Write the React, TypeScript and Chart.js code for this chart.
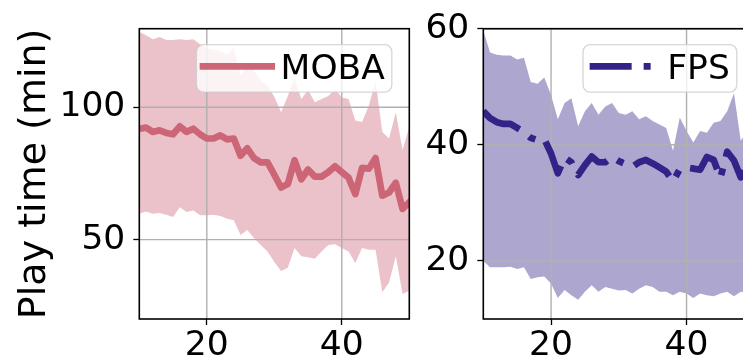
import { useEffect, useRef } from "react";
import { Chart, registerables } from "chart.js";

Chart.register(...registerables);

// Session index along the x axis
const sessions = [
  10, 11, 12, 13, 14, 15, 16, 17, 18, 19, 20, 21, 22, 23, 24, 25, 26, 27, 28, 29, 30,
  31, 32, 33, 34, 35, 36, 37, 38, 39, 40, 41, 42, 43, 44, 45, 46, 47, 48, 49, 50,
];

// MOBA play time: mean and spread band
const mobaMean = [
  91.9, 92.3, 90.7, 91.3, 90.3, 89.8, 92.8, 90.7, 91.9, 89.8, 88.2, 88.2, 89.4, 87.9, 88.2, 81.7,
  84.5, 80.8, 79.2, 79.2, 74.5, 69.7, 71.0, 80.0, 72.8, 76.5, 73.8, 73.8, 75.5, 77.7, 75.5, 73.4,
  67.2, 77.1, 76.8, 80.8, 66.6, 67.8, 71.5, 61.6, 64.1,
];
const mobaUpper = [
  128.5, 127.2, 125.7, 126.6, 125.4, 125.4, 125.7, 125.4, 125.7, 123.8, 122.3, 121.7, 121.3, 119.8,
  122.5, 111.8, 116.1, 113.6, 109.9, 108.1, 104.0, 98.1, 104.3, 111.1, 103.1, 106.5, 101.9, 103.1,
  104.3, 106.8, 103.7, 103.1, 95.0, 94.4, 100.6, 109.9, 90.7, 88.2, 98.1, 83.9, 92.6,
];
const mobaLower = [
  59.8, 60.6, 59.8, 60.1, 59.4, 58.5, 62.2, 60.4, 61.0, 59.2, 59.2, 59.4, 58.9, 57.9, 57.3, 51.7,
  53.6, 50.5, 48.0, 45.5, 41.5, 38.1, 39.4, 46.8, 43.7, 43.3, 42.8, 45.5, 48.0, 48.2, 46.8, 45.5,
  41.2, 46.8, 46.2, 46.2, 30.1, 33.8, 43.7, 29.4, 30.7,
];

// FPS play time: mean and spread band
const fpsMean = [
  45.8, 44.6, 43.9, 43.6, 43.6, 42.9, 42.2, 41.2, 40.8, 41.0, 38.5, 35.1, 37.8, 37.0, 34.8, 36.5,
  38.0, 37.0, 37.0, 37.9, 37.2, 36.7, 36.2, 37.0, 37.4, 36.8, 36.1, 35.4, 33.7, 35.8, 36.1, 35.9,
  35.7, 37.9, 37.4, 34.3, 38.8, 37.3, 34.4, 37.0, 36.0,
];
const fpsUpper = [
  59.7, 55.9, 55.5, 55.4, 55.4, 54.7, 55.0, 50.8, 50.5, 51.6, 48.6, 44.4, 47.2, 48.0, 43.2, 45.8,
  47.2, 45.2, 46.6, 47.2, 45.5, 45.2, 45.8, 44.4, 44.9, 44.1, 43.5, 42.9, 39.0, 44.7, 42.4, 40.4,
  42.4, 42.1, 43.8, 44.1, 45.8, 48.9, 40.7, 42.5, 44.0,
];
const fpsLower = [
  20.0, 18.9, 18.9, 18.9, 19.0, 18.6, 18.9, 16.9, 17.2, 17.3, 16.1, 13.6, 15.0, 14.1, 13.3, 14.7,
  15.8, 14.7, 15.5, 15.2, 14.9, 15.0, 14.4, 15.2, 15.8, 15.5, 14.7, 14.7, 14.1, 14.7, 14.4, 13.6,
  14.4, 14.1, 13.9, 14.4, 14.7, 13.9, 14.7, 14.5, 14.3,
];

// Tick values
const xTicks = [20, 40];
const mobaYTicks = [50, 100];
const fpsYTicks = [20, 40, 60];

const FONT = "'DejaVu Sans', 'Liberation Sans', sans-serif";
const MOBA_COLOR = "#CC6677";
const MOBA_BAND = "rgba(204, 102, 119, 0.4)";
const FPS_COLOR = "#332288";
const FPS_BAND = "rgba(51, 34, 136, 0.4)";
const DASH_DOT = [42, 12, 7, 12];

type PanelSpec = {
  label: string;
  mean: number[];
  upper: number[];
  lower: number[];
  color: string;
  band: string;
  dash: number[];
  yMin: number;
  yMax: number;
  yTicks: number[];
  yTitle: string | null;
  yAxisWidth: number;
  padRight: number;
};

// Grid lines drawn between the band and the mean line, plus the axes box and legend
const panelDecor = {
  id: "panelDecor",
  beforeDatasetDraw(chart: any, args: any, opts: any) {
    if (args.index !== 0) return;
    const { ctx, chartArea: ca } = chart;
    ctx.save();
    ctx.beginPath();
    ctx.rect(ca.left, ca.top, ca.right - ca.left, ca.bottom - ca.top);
    ctx.clip();
    ctx.strokeStyle = "#b0b0b0";
    ctx.lineWidth = 1.4;
    for (const v of opts.xTicks) {
      const x = chart.scales.x.getPixelForValue(v);
      ctx.beginPath();
      ctx.moveTo(x, ca.top);
      ctx.lineTo(x, ca.bottom);
      ctx.stroke();
    }
    for (const v of opts.yTicks) {
      const y = chart.scales.y.getPixelForValue(v);
      ctx.beginPath();
      ctx.moveTo(ca.left, y);
      ctx.lineTo(ca.right, y);
      ctx.stroke();
    }
    ctx.restore();
  },
  afterDatasetsDraw(chart: any, _args: any, opts: any) {
    const { ctx, chartArea: ca } = chart;
    ctx.save();
    // axes box
    ctx.strokeStyle = "#000";
    ctx.lineWidth = 1.6;
    ctx.strokeRect(ca.left, ca.top, ca.right - ca.left, ca.bottom - ca.top);

    // legend
    ctx.font = `34.5px ${FONT}`;
    const tw = ctx.measureText(opts.label).width;
    const boxRight = ca.right - 17.5;
    const boxW = 84.2 + tw + 7;
    const boxL = boxRight - boxW;
    const boxT = ca.top + 16;
    const boxH = 47.4;
    const r = 7;
    ctx.beginPath();
    ctx.moveTo(boxL + r, boxT);
    ctx.lineTo(boxL + boxW - r, boxT);
    ctx.arcTo(boxL + boxW, boxT, boxL + boxW, boxT + r, r);
    ctx.lineTo(boxL + boxW, boxT + boxH - r);
    ctx.arcTo(boxL + boxW, boxT + boxH, boxL + boxW - r, boxT + boxH, r);
    ctx.lineTo(boxL + r, boxT + boxH);
    ctx.arcTo(boxL, boxT + boxH, boxL, boxT + boxH - r, r);
    ctx.lineTo(boxL, boxT + r);
    ctx.arcTo(boxL, boxT, boxL + r, boxT, r);
    ctx.closePath();
    ctx.fillStyle = "rgba(255,255,255,0.8)";
    ctx.fill();
    ctx.strokeStyle = "rgba(204,204,204,0.8)";
    ctx.lineWidth = 1.3;
    ctx.stroke();

    const hy = boxT + 21.7;
    ctx.beginPath();
    ctx.moveTo(boxL + 6.6, hy);
    ctx.lineTo(boxL + 75.3, hy);
    ctx.lineWidth = 6.7;
    ctx.strokeStyle = opts.color;
    ctx.setLineDash(opts.dash);
    ctx.lineCap = opts.dash.length ? "butt" : "square";
    ctx.stroke();
    ctx.setLineDash([]);

    ctx.fillStyle = "#000";
    ctx.textAlign = "left";
    ctx.textBaseline = "alphabetic";
    ctx.fillText(opts.label, boxL + 84.2, hy + 12.7);
    ctx.restore();
  },
};

function buildConfig(p: PanelSpec): any {
  const pts = (arr: number[]) => arr.map((y, i) => ({ x: sessions[i], y }));
  const tickFont = { family: FONT, size: 34.5, lineHeight: 1.2 };
  return {
    type: "line",
    data: {
      datasets: [
        {
          label: p.label,
          data: pts(p.mean),
          borderColor: p.color,
          borderWidth: 6.7,
          borderDash: p.dash,
          borderCapStyle: p.dash.length ? "butt" : "square",
          borderJoinStyle: "round",
          pointRadius: 0,
          fill: false,
          tension: 0,
          clip: 0,
        },
        {
          label: p.label + " upper",
          data: pts(p.upper),
          borderColor: "rgba(0,0,0,0)",
          borderWidth: 1,
          pointRadius: 0,
          backgroundColor: p.band,
          fill: "+1",
          tension: 0,
          clip: 0,
        },
        {
          label: p.label + " lower",
          data: pts(p.lower),
          borderColor: "rgba(0,0,0,0)",
          borderWidth: 1,
          pointRadius: 0,
          fill: false,
          tension: 0,
          clip: 0,
        },
      ],
    },
    options: {
      animation: false,
      responsive: false,
      maintainAspectRatio: false,
      devicePixelRatio: 1,
      events: [],
      layout: { padding: { left: 0, top: 23.3, right: p.padRight, bottom: 0 } },
      plugins: {
        legend: { display: false },
        tooltip: { enabled: false },
        panelDecor: {
          xTicks,
          yTicks: p.yTicks,
          label: p.label,
          color: p.color,
          dash: p.dash,
        },
      },
      scales: {
        x: {
          type: "linear",
          min: 10,
          max: 50,
          afterBuildTicks: (s: any) => {
            s.ticks = xTicks.map((v) => ({ value: v }));
          },
          afterFit: (s: any) => {
            s.height = 42;
          },
          border: { display: false },
          grid: {
            drawOnChartArea: false,
            drawTicks: true,
            tickLength: 6,
            tickColor: "#000",
            tickWidth: 1.3,
          },
          ticks: {
            autoSkip: false,
            maxRotation: 0,
            minRotation: 0,
            padding: 0,
            color: "#000",
            font: tickFont,
            callback: (v: any) => String(v),
          },
        },
        y: {
          type: "linear",
          min: p.yMin,
          max: p.yMax,
          afterBuildTicks: (s: any) => {
            s.ticks = p.yTicks.map((v) => ({ value: v }));
          },
          afterFit: (s: any) => {
            s.width = p.yAxisWidth;
          },
          border: { display: false },
          grid: {
            drawOnChartArea: false,
            drawTicks: true,
            tickLength: 6,
            tickColor: "#000",
            tickWidth: 1.3,
          },
          ticks: {
            autoSkip: false,
            padding: 8,
            color: "#000",
            font: tickFont,
            callback: (v: any) => String(v),
          },
          title: p.yTitle
            ? {
                display: true,
                text: p.yTitle,
                color: "#000",
                font: { family: FONT, size: 38, lineHeight: 1.2 },
                padding: { top: 12, bottom: 0 },
              }
            : { display: false },
        },
      },
    },
    plugins: [panelDecor],
  };
}

const mobaPanel: PanelSpec = {
  label: "MOBA",
  mean: mobaMean,
  upper: mobaUpper,
  lower: mobaLower,
  color: MOBA_COLOR,
  band: MOBA_BAND,
  dash: [],
  yMin: 20,
  yMax: 129.7,
  yTicks: mobaYTicks,
  yTitle: "Play time (min)",
  yAxisWidth: 139.3,
  padRight: 10.7,
};

const fpsPanel: PanelSpec = {
  label: "FPS",
  mean: fpsMean,
  upper: fpsUpper,
  lower: fpsLower,
  color: FPS_COLOR,
  band: FPS_BAND,
  dash: DASH_DOT,
  yMin: 10,
  yMax: 60,
  yTicks: fpsYTicks,
  yTitle: null,
  yAxisWidth: 63.3,
  padRight: 10.7,
};

export default function App() {
  const leftRef = useRef<HTMLCanvasElement | null>(null);
  const rightRef = useRef<HTMLCanvasElement | null>(null);

  useEffect(() => {
    const charts: Chart[] = [];
    if (leftRef.current) charts.push(new Chart(leftRef.current, buildConfig(mobaPanel)));
    if (rightRef.current) charts.push(new Chart(rightRef.current, buildConfig(fpsPanel)));
    return () => charts.forEach((c) => c.destroy());
  }, []);

  return (
    <div
      style={{
        position: "fixed",
        left: 0,
        top: 0,
        width: 743,
        height: 361,
        overflow: "hidden",
        background: "#fff",
      }}
    >
      <canvas
        ref={leftRef}
        width={420}
        height={361}
        style={{ position: "absolute", left: 0, top: 0, width: 420, height: 361 }}
      />
      <canvas
        ref={rightRef}
        width={345}
        height={361}
        style={{ position: "absolute", left: 420, top: 0, width: 345, height: 361 }}
      />
    </div>
  );
}
